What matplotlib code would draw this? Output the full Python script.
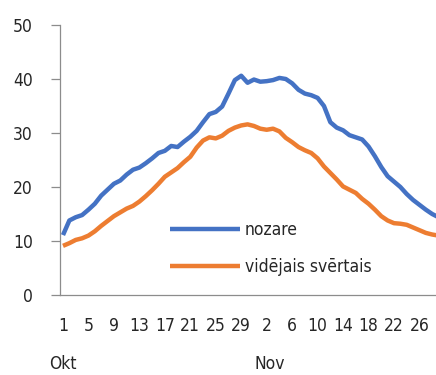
import matplotlib
matplotlib.use("Agg")
import matplotlib.pyplot as plt
import matplotlib.transforms as mtransforms

plt.rcParams['font.family'] = ['DejaVu Sans']
plt.rcParams['font.stretch'] = 'condensed'

# daily values, 1 Oct .. 30 Nov
nozare = [11.1, 13.8, 14.4, 14.8, 15.8, 16.9, 18.4, 19.5, 20.6, 21.2,
          22.3, 23.2, 23.6, 24.4, 25.3, 26.3, 26.7, 27.6, 27.4, 28.4,
          29.3, 30.4, 32.0, 33.5, 33.9, 34.9, 37.3, 39.8, 40.6, 39.3,
          39.9, 39.5, 39.6, 39.8, 40.2, 40.0, 39.2, 38.0, 37.3, 37.0,
          36.5, 35.0, 32.0, 31.0, 30.5, 29.6, 29.2, 28.8, 27.5, 25.7,
          23.7, 22.0, 21.0, 20.0, 18.7, 17.6, 16.7, 15.8, 15.0, 14.4]
videjais = [9.1, 9.6, 10.2, 10.5, 11.0, 11.8, 12.8, 13.7, 14.6, 15.3,
            16.0, 16.5, 17.3, 18.3, 19.4, 20.6, 21.9, 22.7, 23.5, 24.6,
            25.6, 27.3, 28.6, 29.2, 29.0, 29.5, 30.4, 31.0, 31.4, 31.6,
            31.3, 30.8, 30.6, 30.8, 30.3, 29.1, 28.3, 27.4, 26.8, 26.3,
            25.3, 23.8, 22.6, 21.4, 20.1, 19.5, 18.9, 17.8, 16.9, 15.8,
            14.6, 13.8, 13.3, 13.2, 13.0, 12.5, 12.0, 11.5, 11.2, 11.0]

tick_days = [1, 5, 9, 13, 17, 21, 25, 29, 2, 6, 10, 14, 18, 22, 26]
months = ["Okt", "Nov"]

x = list(range(len(nozare)))
tick_pos = list(range(0, 57, 4))

fig = plt.figure(figsize=(4.36, 3.75), dpi=100)
ax = fig.add_axes([60 / 436, 80 / 375, 376 / 436, 270 / 375])

text_col = '#262626'
axis_col = '#8c8c8c'
fs = 12.5

ax.plot(x, nozare, color='#4472C4', lw=3.2, label='nozare', solid_capstyle='butt')
ax.plot(x, videjais, color='#ED7D31', lw=3.2, label='vidējais svērtais', solid_capstyle='butt')

ax.set_xlim(-0.47, 58.6)
ax.set_ylim(0, 50)
ax.set_yticks(range(0, 51, 10))
ax.set_xticks(tick_pos)
ax.set_xticklabels([str(d) for d in tick_days])

for s in ['top', 'right']:
    ax.spines[s].set_visible(False)
for s in ['left', 'bottom']:
    ax.spines[s].set_color(axis_col)
    ax.spines[s].set_linewidth(0.9)

ax.tick_params(axis='y', length=6.5, width=0.9, color=axis_col, pad=13,
               labelsize=fs, labelcolor=text_col)
ax.tick_params(axis='x', length=0, pad=16, labelsize=fs, labelcolor=text_col)

# month names under the day labels
trans = mtransforms.blended_transform_factory(ax.transData, fig.transFigure)
ax.text(0, 11 / 375, months[0], transform=trans, ha='center', va='center',
        fontsize=fs, color=text_col)
ax.text(32.5, 11 / 375, months[1], transform=trans, ha='center', va='center',
        fontsize=fs, color=text_col)

leg = ax.legend(loc='upper left', bbox_to_anchor=(0.275, 0.30), frameon=False,
                handlelength=4.0, handletextpad=0.3, labelspacing=1.1,
                fontsize=fs, borderaxespad=0)
for t in leg.get_texts():
    t.set_color(text_col)

fig.savefig('out.png', dpi=100)
